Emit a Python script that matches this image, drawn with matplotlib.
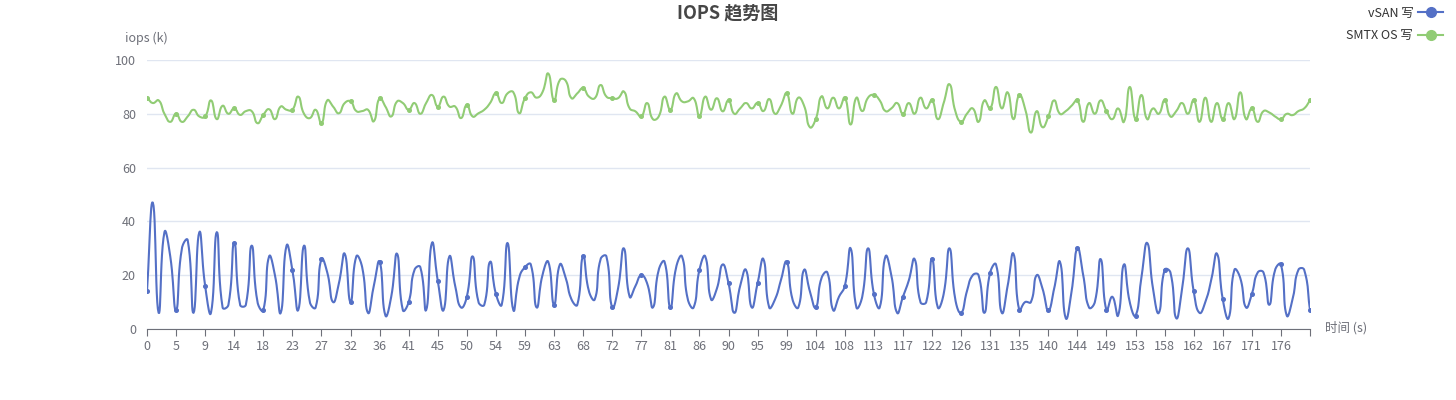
import numpy as np
import matplotlib.pyplot as plt
from matplotlib.lines import Line2D

plt.rcParams['font.family'] = ['Noto Sans CJK SC', 'DejaVu Sans']

title = 'IOPS 趋势图'
series_names = ['vSAN 写', 'SMTX OS 写']
colors = ['#5470c6', '#91cc75']

# one sample every 0.9 s, 201 samples
vsan = [14, 47, 6, 36, 27, 7, 30, 33, 6, 36, 16, 6, 36, 8, 9, 32, 9, 9, 31, 10,
        7, 27, 20, 6, 31, 22, 7, 31, 10, 8, 26, 21, 10, 17, 28, 10, 27, 23, 6, 16,
        25, 5, 12, 28, 7, 10, 22, 23, 7, 32, 18, 7, 27, 16, 8, 12, 27, 10, 9, 25,
        13, 9, 32, 7, 19, 23, 24, 8, 20, 25, 9, 24, 19, 11, 9, 27, 14, 11, 26, 27,
        8, 15, 30, 12, 16, 20, 17, 8, 22, 25, 8, 23, 27, 11, 8, 22, 27, 11, 15, 24,
        17, 6, 16, 22, 8, 17, 26, 8, 11, 18, 25, 11, 8, 22, 14, 8, 19, 21, 7, 12,
        16, 30, 8, 12, 30, 13, 8, 27, 20, 6, 12, 18, 26, 10, 10, 26, 8, 13, 30, 11,
        6, 14, 20, 20, 6, 21, 24, 6, 16, 28, 7, 10, 10, 20, 15, 7, 15, 25, 4, 14,
        30, 20, 8, 10, 26, 7, 12, 5, 24, 10, 5, 19, 32, 15, 6, 22, 21, 4, 15, 30,
        14, 6, 10, 18, 28, 11, 4, 22, 19, 8, 13, 21, 21, 9, 22, 24, 5, 11, 22, 22,
        7]
smtx = [86, 84, 85, 80, 77, 80, 77, 79, 81.5, 79, 79, 85, 78, 83, 80, 82, 79.6, 81, 81, 76.5,
        79.6, 81.7, 78, 82.7, 81.5, 81.5, 86.4, 80, 78.4, 81.5, 76.5, 85, 82.7, 80.2, 84, 84.6, 81, 81, 81.5, 77.2,
        85.8, 82.7, 79, 84.6, 84, 81.5, 84, 80, 84, 87, 82.7, 86.4, 82.7, 82.7, 78.4, 83.3, 79, 80.2, 81.5, 84,
        87.6, 84, 87.6, 88, 80.2, 85.8, 88, 86, 88, 95, 85, 92.6, 92.3, 85.8, 87.6, 89.5, 86.4, 85.8, 90.7, 86.4,
        85.8, 85.8, 88.3, 82, 80.9, 79, 84, 78, 79, 86.4, 81.5, 87.6, 84.6, 84.6, 85.8, 79.3, 86.4, 81.5, 85.8, 80.9,
        85, 80, 82, 84, 82, 84, 81, 85.5, 80, 83, 87.6, 80, 86, 83, 75, 78, 86.5, 82, 86, 82,
        86, 76, 86, 81, 86, 87, 85, 81, 82, 84, 80, 84, 80, 86, 82, 85, 78, 84, 91, 81,
        77, 80, 82, 77, 85, 82, 90, 82, 88, 78, 87, 82, 73, 81, 75, 79, 85, 80, 81, 83,
        85, 77, 84, 80, 85, 81, 78, 82, 77, 90, 78, 87, 78, 82, 80, 85, 79, 81, 84, 80,
        85, 77, 86, 77, 84, 78, 84, 78, 88, 78, 82, 77, 81, 80.5, 79, 78, 80, 79.5, 81, 82,
        85]

tick_idx = list(range(0, 200, 5))
tick_labels = ['0', '5', '9', '14', '18', '23', '27', '32', '36', '41', '45', '50', '54', '59',
               '63', '68', '72', '77', '81', '86', '90', '95', '99', '104', '108', '113', '117',
               '122', '126', '131', '135', '140', '144', '149', '153', '158', '162', '167',
               '171', '176']


def smooth_curve(xs, ys, sx, sy, k=0.5, n=12):
    # bezier smoothing like echarts, control points worked out in pixel space
    X = np.asarray(xs, float) * sx
    Y = np.asarray(ys, float) * sy
    N = len(X)
    prev = np.r_[0, np.arange(N - 1)]
    nxt = np.r_[np.arange(1, N), N - 1]
    vx = (X[nxt] - X[prev]) * k
    vy = (Y[nxt] - Y[prev]) * k
    d0 = np.hypot(X - X[prev], Y - Y[prev])
    d1 = np.hypot(X[nxt] - X, Y[nxt] - Y)
    tot = d0 + d1
    r = np.where(tot > 0, d1 / np.where(tot > 0, tot, 1), 0.5)
    ox, oy = X + vx * r, Y + vy * r
    ix, iy = X - vx * (1 - r), Y - vy * (1 - r)
    t = np.linspace(0, 1, n, endpoint=False)[:, None]
    a, b, c, d = (1 - t) ** 3, 3 * (1 - t) ** 2 * t, 3 * (1 - t) * t ** 2, t ** 3
    cx = a * X[:-1] + b * ox[:-1] + c * ix[1:] + d * X[1:]
    cy = a * Y[:-1] + b * oy[:-1] + c * iy[1:] + d * Y[1:]
    cx = np.r_[cx.T.ravel(), X[-1]]
    cy = np.r_[cy.T.ravel(), Y[-1]]
    return cx / sx, cy / sy


fig = plt.figure(figsize=(14.56, 4.0), dpi=100)
ax = fig.add_axes([147 / 1456, 1 - 329 / 400, (1310 - 147) / 1456, (329 - 60) / 400])

x = np.arange(len(vsan))
for vals, col in [(vsan, colors[0]), (smtx, colors[1])]:
    cx, cy = smooth_curve(x, vals, 5.82, 2.69)
    ax.plot(cx, cy, color=col, lw=1.5, solid_joinstyle='round', zorder=3)
    ax.plot(x[::5], np.asarray(vals)[::5], 'o', color=col, ms=2.6, zorder=4)

ax.set_xlim(0, len(vsan) - 1)
ax.set_ylim(0, 100)
ax.set_yticks([0, 20, 40, 60, 80, 100])
ax.set_xticks(tick_idx + [200])
ax.set_xticklabels(tick_labels + [''])
ax.grid(axis='y', color='#e0e6f1', lw=1)
ax.set_axisbelow(True)
for s in ['top', 'right', 'left']:
    ax.spines[s].set_visible(False)
ax.spines['bottom'].set_color('#6e7079')
ax.tick_params(axis='x', colors='#6e7079', labelsize=9, length=5, direction='out', pad=3)
ax.tick_params(axis='y', colors='#6e7079', labelsize=9, length=0, pad=8)

fig.text(728 / 1456, 1 - 13 / 400, title, ha='center', va='center', fontsize=13,
         fontweight='bold', color='#464646')
fig.text(146 / 1456, 1 - 38 / 400, 'iops (k)', ha='center', va='center', fontsize=9,
         color='#6e7079')
fig.text(1325 / 1456, 1 - 328 / 400, '时间 (s)', ha='left', va='center', fontsize=9,
         color='#6e7079')

handles = [Line2D([], [], color=c, lw=1.5, marker='o', ms=7) for c in colors]
fig.legend(handles, series_names, loc='upper right', bbox_to_anchor=(1452 / 1456, 1.005),
           frameon=False, markerfirst=False, fontsize=9, handlelength=2.0,
           handletextpad=0.4, labelspacing=0.75, borderpad=0.2, labelcolor='#333333')

fig.savefig('out.png', dpi=100)
